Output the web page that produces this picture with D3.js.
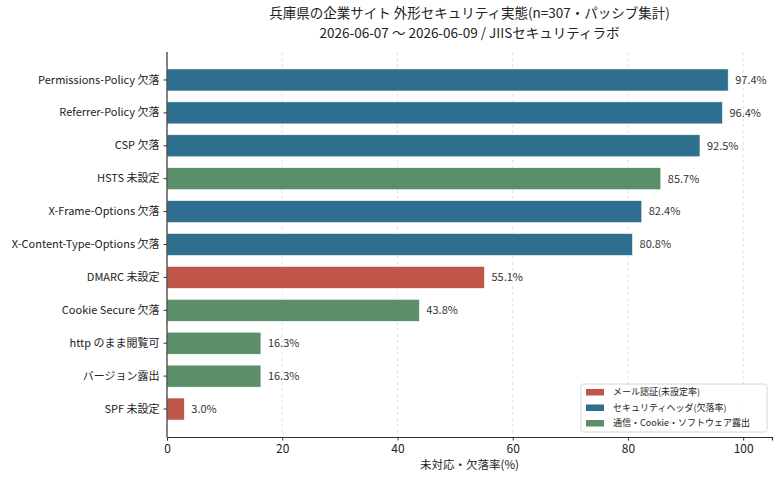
<!DOCTYPE html>
<html lang="ja">
<head>
<meta charset="UTF-8">
<script src="https://cdn.jsdelivr.net/npm/d3@7"></script>
<style>
  body { margin: 0; background: #fff; }
  text { font-family: "Noto Sans CJK JP", "Noto Sans", sans-serif; }
</style>
</head>
<body>
<script>
// データ
var categories = ["Permissions-Policy 欠落", "Referrer-Policy 欠落", "CSP 欠落", "HSTS 未設定",
  "X-Frame-Options 欠落", "X-Content-Type-Options 欠落", "DMARC 未設定", "Cookie Secure 欠落",
  "http のまま閲覧可", "バージョン露出", "SPF 未設定"];
var values = [97.4, 96.4, 92.5, 85.7, 82.4, 80.8, 55.1, 43.8, 16.3, 16.3, 3.0];
var groups = ["header", "header", "header", "comm", "header", "header", "mail", "comm", "comm", "comm", "mail"];
var groupKeys = ["mail", "header", "comm"];
var groupNames = ["メール認証(未設定率)", "セキュリティヘッダ(欠落率)", "通信・Cookie・ソフトウェア露出"];
var xTicks = [0, 20, 40, 60, 80, 100];

var width = 780, height = 480;
var mLeft = 167, mRight = 772, mTop = 52, mBottom = 437;

var color = d3.scaleOrdinal().domain(groupKeys).range(["#c0564a", "#2e6e8e", "#5a8f69"]);

var svg = d3.select("body").append("svg")
  .attr("width", width).attr("height", height);

var x = d3.scaleLinear().domain([0, 105]).range([mLeft, mRight]);
var y = d3.scaleBand().domain(categories).range([mTop, mBottom])
  .paddingInner(0.33).paddingOuter(0.515);

// グリッド
svg.append("g").selectAll("line")
  .data(xTicks).enter().append("line")
  .attr("x1", d => x(d)).attr("x2", d => x(d))
  .attr("y1", mTop).attr("y2", mBottom)
  .attr("stroke", "#d9d9d9").attr("stroke-width", 0.8)
  .attr("stroke-dasharray", "3,3");

// バー
svg.append("g").selectAll("rect")
  .data(values).enter().append("rect")
  .attr("x", x(0))
  .attr("y", (d, i) => y(categories[i]))
  .attr("width", d => x(d) - x(0))
  .attr("height", y.bandwidth())
  .attr("fill", (d, i) => color(groups[i]))
  .attr("stroke", "#fff").attr("stroke-width", 0.6);

// 値ラベル
svg.append("g").selectAll("text")
  .data(values).enter().append("text")
  .attr("x", d => x(d) + 7)
  .attr("y", (d, i) => y(categories[i]) + y.bandwidth() / 2)
  .attr("dy", "0.35em")
  .attr("font-size", 11).attr("fill", "#333")
  .text(d => d.toFixed(1) + "%");

// 軸
var xAxis = svg.append("g")
  .attr("transform", "translate(0," + mBottom + ")")
  .call(d3.axisBottom(x).tickValues(xTicks).tickSize(3.5).tickPadding(4));
xAxis.select(".domain").attr("stroke", "#333").attr("stroke-width", 1.2);
xAxis.selectAll(".tick line").attr("stroke", "#333");
xAxis.selectAll(".tick text").attr("font-size", 12).attr("fill", "#222");

var yAxis = svg.append("g")
  .attr("transform", "translate(" + mLeft + ",0)")
  .call(d3.axisLeft(y).tickSize(3.5).tickPadding(4));
yAxis.select(".domain").attr("stroke", "#333").attr("stroke-width", 1.2)
  .attr("d", "M0," + mTop + "V" + mBottom);
yAxis.selectAll(".tick line").attr("stroke", "#333");
yAxis.selectAll(".tick text").attr("font-size", 11).attr("fill", "#222");

// 軸ラベル
svg.append("text")
  .attr("x", (mLeft + mRight) / 2).attr("y", 469)
  .attr("text-anchor", "middle").attr("font-size", 11.5).attr("fill", "#222")
  .text("未対応・欠落率(%)");

// タイトル
svg.append("text")
  .attr("x", (mLeft + mRight) / 2).attr("y", 18)
  .attr("text-anchor", "middle").attr("font-size", 13.5).attr("fill", "#222")
  .text("兵庫県の企業サイト 外形セキュリティ実態(n=307・パッシブ集計)");
svg.append("text")
  .attr("x", (mLeft + mRight) / 2).attr("y", 38)
  .attr("text-anchor", "middle").attr("font-size", 13.5).attr("fill", "#222")
  .text("2026-06-07 〜 2026-06-09 / JIISセキュリティラボ");

// 凡例
var legend = svg.append("g").attr("transform", "translate(581,384)");
legend.append("rect")
  .attr("width", 186).attr("height", 48).attr("rx", 2)
  .attr("fill", "#fff").attr("fill-opacity", 0.85)
  .attr("stroke", "#ccc").attr("stroke-width", 0.8);
var item = legend.selectAll(".item")
  .data(groupKeys).enter().append("g")
  .attr("class", "item")
  .attr("transform", (d, i) => "translate(5," + (8 + i * 15.5) + ")");
item.append("rect")
  .attr("width", 18).attr("height", 6.5).attr("y", -3)
  .attr("fill", d => color(d));
item.append("text")
  .attr("x", 27).attr("dy", "0.35em")
  .attr("font-size", 9).attr("fill", "#222")
  .text((d, i) => groupNames[i]);
</script>
</body>
</html>
